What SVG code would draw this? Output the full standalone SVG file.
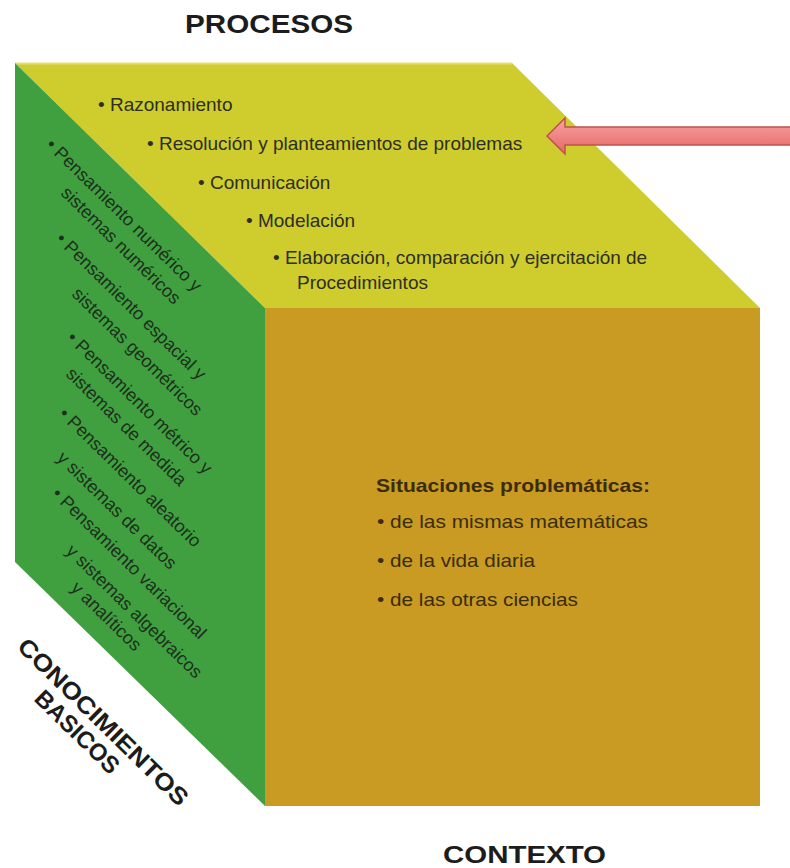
<svg xmlns="http://www.w3.org/2000/svg" width="790" height="868" viewBox="0 0 790 868">
  <defs>
    <linearGradient id="arrowGrad" x1="0" y1="0" x2="0" y2="1">
      <stop offset="0" stop-color="#f6a4a4"/>
      <stop offset="0.5" stop-color="#f08585"/>
      <stop offset="1" stop-color="#e06868"/>
    </linearGradient>
    <style>
      .title { font-family: "Liberation Sans", Arial, sans-serif; font-weight: bold; fill: #1c1c1c; }
      .top { font-family: "Liberation Sans", Arial, sans-serif; font-size: 19px; fill: #2e2e22; }
      .side { font-family: "Liberation Sans", Arial, sans-serif; font-size: 18px; fill: #1d2f1d; }
      .front { font-family: "Liberation Sans", Arial, sans-serif; font-size: 19px; fill: #3a2c0c; }
      .frontb { font-family: "Liberation Sans", Arial, sans-serif; font-size: 19px; font-weight: bold; fill: #3a2c0c; }
    </style>
  </defs>
  <rect x="0" y="0" width="790" height="868" fill="#ffffff"/>

  <g id="face-top">
    <polygon points="15,63 512,63 760,308 265,308" fill="#cfcc2e"/>
    <line x1="15" y1="63.5" x2="512" y2="63.5" stroke="#e2df7a" stroke-width="2"/>
    <text class="top" x="98" y="111">• Razonamiento</text>
    <text class="top" x="147" y="150">• Resolución y planteamientos de problemas</text>
    <text class="top" x="198" y="189">• Comunicación</text>
    <text class="top" x="246" y="227">• Modelación</text>
    <text class="top" x="273" y="264">• Elaboración, comparación y ejercitación de</text>
    <text class="top" x="297" y="289">Procedimientos</text>
  </g>

  <g id="face-left">
    <polygon points="15,63 265,308 265,806 15,562" fill="#40a040"/>
    <text class="side" transform="translate(45,146) rotate(44.4)">• Pensamiento numérico y</text>
    <text class="side" transform="translate(60,194) rotate(44.4)">sistemas numéricos</text>
    <text class="side" transform="translate(55,240) rotate(44.4)">• Pensamiento espacial y</text>
    <text class="side" transform="translate(71,295) rotate(44.4)">sistemas geométricos</text>
    <text class="side" transform="translate(66,339) rotate(44.4)">• Pensamiento métrico y</text>
    <text class="side" transform="translate(65,375) rotate(44.4)">sistemas de medida</text>
    <text class="side" transform="translate(58,415) rotate(44.4)">• Pensamiento aleatorio</text>
    <text class="side" transform="translate(56,459) rotate(44.4)">y sistemas de datos</text>
    <text class="side" transform="translate(51,495) rotate(44.4)">• Pensamiento variacional</text>
    <text class="side" transform="translate(65,552) rotate(44.4)">y sistemas algebraicos</text>
    <text class="side" transform="translate(70,589) rotate(44.4)">y analíticos</text>
  </g>

  <g id="face-front">
    <rect x="265" y="308" width="495" height="498" fill="#c99b22"/>
    <text class="frontb" x="376" y="492" textLength="274" lengthAdjust="spacingAndGlyphs">Situaciones problemáticas:</text>
    <text class="front" x="377" y="528" textLength="271" lengthAdjust="spacingAndGlyphs">• de las mismas matemáticas</text>
    <text class="front" x="377" y="567" textLength="158" lengthAdjust="spacingAndGlyphs">• de la vida diaria</text>
    <text class="front" x="377" y="606" textLength="201" lengthAdjust="spacingAndGlyphs">• de las otras ciencias</text>
  </g>

  <g id="label-procesos">
    <text class="title" x="185" y="33" font-size="25" textLength="168" lengthAdjust="spacingAndGlyphs">PROCESOS</text>
  </g>
  <g id="label-contexto">
    <text class="title" x="443" y="863" font-size="24" textLength="163" lengthAdjust="spacingAndGlyphs">CONTEXTO</text>
  </g>
  <g id="label-conocimientos">
    <text class="title" font-size="24" transform="translate(16,648) rotate(44.4)" textLength="228" lengthAdjust="spacingAndGlyphs">CONOCIMIENTOS</text>
    <text class="title" font-size="24" transform="translate(33,700) rotate(44.4)" textLength="108" lengthAdjust="spacingAndGlyphs">BASICOS</text>
  </g>

  <g id="connectors">
    <path d="M547,136 L565,118 L565,127 L792,127 L792,145 L565,145 L565,154 Z" fill="url(#arrowGrad)" stroke="#c0504d" stroke-width="1.5" stroke-linejoin="miter"/>
  </g>
</svg>
